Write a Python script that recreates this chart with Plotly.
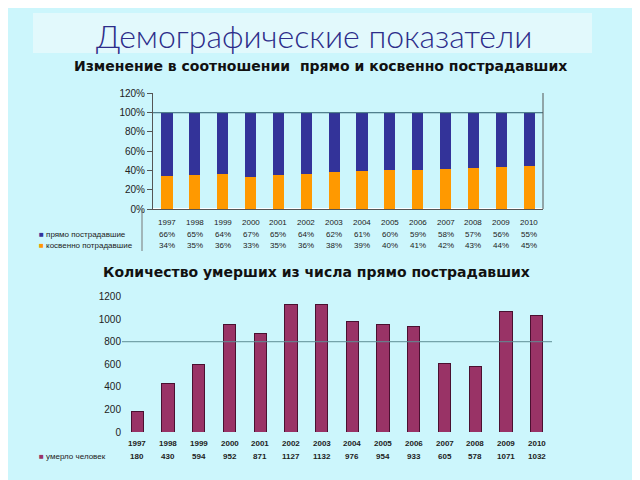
import plotly.graph_objects as go

years = ["1997", "1998", "1999", "2000", "2001", "2002", "2003", "2004",
         "2005", "2006", "2007", "2008", "2009", "2010"]
direct_pct = [66, 65, 64, 67, 65, 64, 62, 61, 60, 59, 58, 57, 56, 55]
indirect_pct = [34, 35, 36, 33, 35, 36, 38, 39, 40, 41, 42, 43, 44, 45]
deaths = [180, 430, 594, 952, 871, 1127, 1132, 976, 954, 933, 605, 578, 1071, 1032]

pct_ticks = [0, 20, 40, 60, 80, 100, 120]
death_ticks = [0, 200, 400, 600, 800, 1000, 1200]

BG = "#ccf6fc"
BLUE = "#333399"
ORANGE = "#ff9900"
MAROON = "#993366"
TXT = "#222222"
TFONT = "Liberation Sans"

W, H, OFF = 640, 480, 8  # page places the figure 8px in from the corner


def px(x):
    return (x - OFF) / W


def py(y):
    return 1 - (y - OFF) / H


fig = go.Figure()

fig.add_trace(go.Bar(x=years, y=indirect_pct, marker_color=ORANGE, width=0.4,
                     name="косвенно потрадавшие", xaxis="x", yaxis="y",
                     marker_line_width=0))
fig.add_trace(go.Bar(x=years, y=direct_pct, marker_color=BLUE, width=0.4,
                     name="прямо пострадавшие", xaxis="x", yaxis="y",
                     marker_line_width=0))
fig.add_trace(go.Bar(x=years, y=deaths, marker_color=MAROON, width=0.4,
                     name="умерло человек", xaxis="x2", yaxis="y2",
                     marker_line_color="#4a1030", marker_line_width=1))

fig.update_layout(
    width=W, height=H,
    margin=dict(l=0, r=0, t=0, b=0, pad=0, autoexpand=False),
    paper_bgcolor=BG, plot_bgcolor=BG,
    barmode="stack", showlegend=False,
    xaxis=dict(domain=[px(153), px(543)], range=[-0.5, 13.5], showticklabels=False,
               showline=True, linecolor="#555555", linewidth=1, showgrid=False,
               anchor="y", type="category", automargin=False),
    yaxis=dict(domain=[py(209), py(93)], range=[0, 120.5], tickvals=pct_ticks,
               ticktext=[f"{v}%" for v in pct_ticks], showgrid=False,
               showline=True, linecolor="#555555", linewidth=1,
               ticks="outside", ticklen=5, tickcolor="#555555", automargin=False,
               tickfont=dict(family=TFONT, size=10, color=TXT), anchor="x"),
    xaxis2=dict(domain=[px(122), px(552)], range=[-0.5, 13.5], showticklabels=False,
                showline=False, showgrid=False, anchor="y2", type="category",
                automargin=False),
    yaxis2=dict(domain=[py(432), py(296)], range=[0, 1205], tickvals=death_ticks,
                showgrid=False, showline=False, zeroline=False, automargin=False,
                tickfont=dict(family=TFONT, size=10, color=TXT), anchor="x2"),
)

# lone gridlines as in reference
fig.add_shape(type="line", xref="x domain", yref="y", x0=0, x1=1, y0=100, y1=100,
              line=dict(color="#2f5f6f", width=1))
fig.add_shape(type="line", xref="x domain", yref="y domain", x0=1, x1=1, y0=0, y1=1,
              line=dict(color="#555555", width=1))
fig.add_shape(type="line", xref="x2 domain", yref="y2", x0=0, x1=1, y0=800, y1=800,
              line=dict(color="#5f8f95", width=1))

# title box
fig.add_shape(type="rect", xref="paper", yref="paper",
              x0=px(33), x1=px(592), y0=py(53), y1=py(13),
              fillcolor="#e2f9fc", line=dict(width=0), layer="below")

fig.add_annotation(text="Демографические показатели", xref="paper", yref="paper",
                   x=px(314), y=py(35), xanchor="center", yanchor="middle",
                   showarrow=False,
                   font=dict(family="Lato", size=32, weight=300, color="#2d2d8a"))
fig.add_annotation(text="<b>Изменение в соотношении  прямо и косвенно пострадавших</b>",
                   xref="paper", yref="paper", x=px(320), y=py(66),
                   xanchor="center", yanchor="middle", showarrow=False,
                   font=dict(family="DejaVu Sans", size=14, color="#111111"))
fig.add_annotation(text="<b>Количество умерших из числа прямо пострадавших</b>",
                   xref="paper", yref="paper", x=px(316), y=py(272),
                   xanchor="center", yanchor="middle", showarrow=False,
                   font=dict(family="DejaVu Sans", size=14, color="#111111"))

# data tables (x given as category index)
SMALL = dict(family=TFONT, size=8, color=TXT)


def cell(text, xref, i, y):
    fig.add_annotation(text=text, xref=xref, yref="paper", x=i, y=py(y),
                       xanchor="center", yanchor="middle", showarrow=False, font=SMALL)


for i, yr in enumerate(years):
    cell(yr, "x", i, 222)
    cell(f"{direct_pct[i]}%", "x", i, 234)
    cell(f"{indirect_pct[i]}%", "x", i, 245.5)
    cell(f"<b>{yr}</b>", "x2", i, 443)
    cell(f"<b>{deaths[i]}</b>", "x2", i, 456)


def legend_label(text, y):
    fig.add_annotation(text=text, xref="paper", yref="paper", x=px(37), y=py(y),
                       xanchor="left", yanchor="middle", showarrow=False, font=SMALL)


legend_label(f'<span style="color:{BLUE}">■</span> прямо пострадавшие', 234)
legend_label(f'<span style="color:{ORANGE}">■</span> косвенно потрадавшие', 245.5)
legend_label(f'<span style="color:{MAROON}">■</span> умерло человек', 456)

# table left border (top)
fig.add_shape(type="line", xref="paper", yref="paper", x0=px(142), x1=px(142),
              y0=py(251), y1=py(209), line=dict(color="#777777", width=1))

fig.write_html("out.html")
